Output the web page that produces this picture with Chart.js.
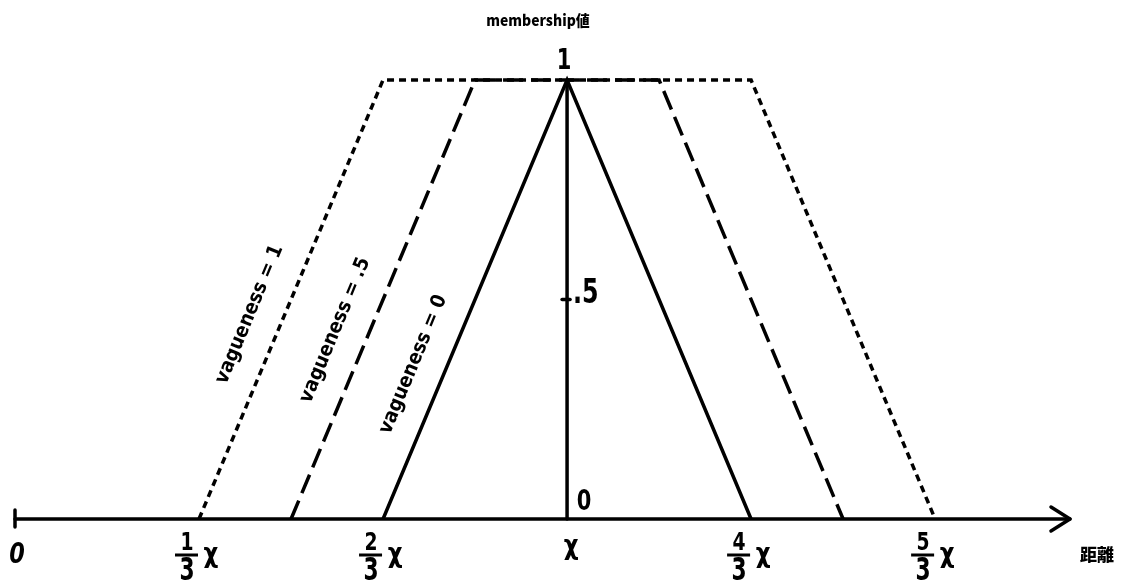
<!DOCTYPE html>
<html><head><meta charset="utf-8">
<script src="https://cdn.jsdelivr.net/npm/chart.js@4/dist/chart.umd.min.js"></script>
<style>html,body{margin:0;padding:0;background:#fff;}#wrap{width:1126px;height:588px;position:relative;}</style>
</head><body><div id="wrap"><canvas id="c" width="1126" height="588"></canvas></div>
<script>
// ---- data ----
const xTickValues = [0, 1/3, 2/3, 1, 4/3, 5/3];
const xTickLabels = ['0', '1/3χ', '2/3χ', 'χ', '4/3χ', '5/3χ'];
const yTickValues = [0, 0.5, 1];
const yTickLabels = ['0', '.5', '1'];
const vague0X = [2/3, 1, 4/3];
const vague0Y = [0, 1, 0];
const vague05X = [0.5, 5/6, 7/6, 1.5];
const vague05Y = [0, 1, 1, 0];
const vague1X = [1/3, 2/3, 4/3, 5/3];
const vague1Y = [0, 1, 1, 0];
const seriesNames = ['vagueness = 0', 'vagueness = .5', 'vagueness = 1'];
const yAxisTitle = 'membership値';
const xAxisTitle = '距離';

function pts(xs, ys) { return xs.map((x, i) => ({x: x, y: ys[i]})); }

const FONT = "'DejaVu Sans', 'Liberation Sans', sans-serif";
function txt(ctx, s, x, y, font, sx, rot, align) {
  ctx.save();
  ctx.translate(x, y);
  if (rot) ctx.rotate(rot);
  ctx.scale(sx || 1, 1);
  ctx.font = font;
  ctx.textAlign = align || 'center';
  ctx.textBaseline = 'middle';
  ctx.fillStyle = '#000';
  ctx.fillText(s, 0, 0);
  ctx.restore();
}

const axesPlugin = {
  id: 'axesPlugin',
  beforeDatasetsDraw(chart) {
    const ctx = chart.ctx, xs = chart.scales.x, ys = chart.scales.y;
    const y0 = ys.getPixelForValue(0);
    const x0 = xs.getPixelForValue(0);
    const xEnd = chart.chartArea.right;
    ctx.save();
    ctx.strokeStyle = '#000';
    ctx.lineWidth = 3.5;
    ctx.lineCap = 'round';
    ctx.lineJoin = 'round';
    ctx.beginPath(); ctx.moveTo(x0, y0); ctx.lineTo(xEnd, y0); ctx.stroke();
    ctx.beginPath(); ctx.moveTo(xEnd - 19, y0 - 12); ctx.lineTo(xEnd, y0); ctx.lineTo(xEnd - 19, y0 + 12); ctx.stroke();
    ctx.beginPath(); ctx.moveTo(x0, y0 - 9); ctx.lineTo(x0, y0 + 8); ctx.stroke();
    const xa = xs.getPixelForValue(1);
    ctx.beginPath(); ctx.moveTo(xa, y0); ctx.lineTo(xa, ys.getPixelForValue(1) + 2); ctx.stroke();
    const yh = ys.getPixelForValue(0.5);
    ctx.beginPath(); ctx.moveTo(xa - 5, yh); ctx.lineTo(xa + 3, yh); ctx.stroke();
    ctx.restore();
  },
  afterDatasetsDraw(chart) {
    const ctx = chart.ctx, xs = chart.scales.x, ys = chart.scales.y;
    const y0 = ys.getPixelForValue(0);
    const xa = xs.getPixelForValue(1);
    xTickValues.forEach((v, i) => {
      const px = xs.getPixelForValue(v);
      const lab = xTickLabels[i];
      if (lab.indexOf('/') >= 0) {
        const num = lab.split('/')[0];
        const den = lab.split('/')[1].replace('χ', '');
        const fx = px - 12;
        txt(ctx, num, fx, y0 + 24, 'bold 25px ' + FONT, 0.75);
        ctx.save(); ctx.strokeStyle = '#000'; ctx.lineWidth = 3;
        ctx.beginPath(); ctx.moveTo(fx - 12, y0 + 36); ctx.lineTo(fx + 11, y0 + 36); ctx.stroke(); ctx.restore();
        txt(ctx, den, fx, y0 + 53, 'bold 32px ' + FONT, 0.68);
        txt(ctx, 'χ', px + 12, y0 + 36, 'bold 27px ' + FONT, 0.85);
      } else if (lab === '0') {
        txt(ctx, '0', px + 2, y0 + 37, 'italic bold 28px ' + FONT, 0.8);
      } else {
        txt(ctx, lab, px + 4, y0 + 28, 'bold 27px ' + FONT, 0.85);
      }
    });
    yTickValues.forEach((v, i) => {
      const py = ys.getPixelForValue(v);
      const lab = yTickLabels[i];
      if (v === 0) txt(ctx, lab, xa + 17, py - 16, 'bold 28px ' + FONT, 0.75);
      else if (v === 1) txt(ctx, lab, xa - 3, py - 18, 'bold 28px ' + FONT, 0.75);
      else txt(ctx, lab, xa + 6, py - 5, 'bold 34px ' + FONT, 0.7, 0, 'left');
    });
    txt(ctx, yAxisTitle, 538, 20, "900 15px 'Noto Sans CJK JP', sans-serif", 0.93);
    txt(ctx, xAxisTitle, 1097, 555, "900 17px 'Noto Sans CJK JP', sans-serif", 1);
    const rot = -67.5 * Math.PI / 180;
    const anchors = [[0.7215, 0.352], [0.58, 0.43], [0.425, 0.466]];
    seriesNames.forEach((n, i) => {
      txt(ctx, n, xs.getPixelForValue(anchors[i][0]), ys.getPixelForValue(anchors[i][1]), 'bold 20px ' + FONT, 0.9, rot);
    });
  }
};

const common = { showLine: true, borderColor: '#000', borderWidth: 3.5, pointRadius: 0, fill: false, tension: 0, clip: false, borderCapStyle: 'butt', borderJoinStyle: 'miter' };

new Chart(document.getElementById('c'), {
  type: 'scatter',
  data: {
    datasets: [
      Object.assign({ label: seriesNames[0], data: pts(vague0X, vague0Y) }, common),
      Object.assign({ label: seriesNames[1], data: pts(vague05X, vague05Y), borderDash: [20, 8] }, common),
      Object.assign({ label: seriesNames[2], data: pts(vague1X, vague1Y), borderDash: [7, 5] }, common)
    ]
  },
  options: {
    responsive: false,
    animation: false,
    events: [],
    layout: { padding: { left: 15, right: 56, top: 80, bottom: 69 } },
    scales: {
      x: { type: 'linear', min: 0, max: 1.911, display: false },
      y: { type: 'linear', min: 0, max: 1, display: false }
    },
    plugins: { legend: { display: false }, tooltip: { enabled: false }, title: { display: false } }
  },
  plugins: [axesPlugin]
});
</script></body></html>
